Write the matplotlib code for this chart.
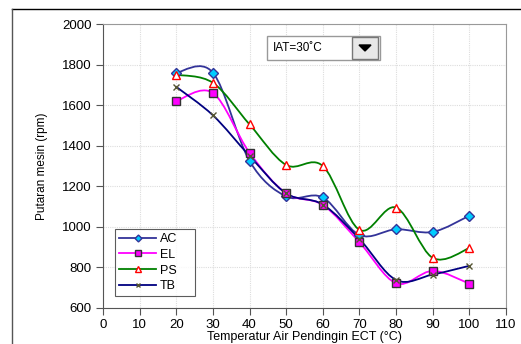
import numpy as np
import matplotlib.pyplot as plt
from matplotlib.path import Path
from matplotlib.patches import PathPatch, Rectangle, Polygon
from matplotlib.lines import Line2D

plt.rcParams['font.family'] = ['Liberation Sans', 'DejaVu Sans']

ect = [20, 30, 40, 50, 60, 70, 80, 90, 100]
ac = [1760, 1760, 1325, 1150, 1145, 960, 988, 975, 1055]
el = [1620, 1660, 1365, 1165, 1108, 924, 722, 783, 720]
ps = [1750, 1710, 1505, 1305, 1300, 985, 1095, 847, 895]
tb = [1690, 1550, 1350, 1165, 1110, 940, 738, 765, 808]
labels = ["AC", "EL", "PS", "TB"]


def smooth_path(x, y):
    # Excel style smoothed line as cubic bezier segments
    p = np.column_stack([x, y]).astype(float)
    verts = [p[0]]
    codes = [Path.MOVETO]
    n = len(p)
    for i in range(n - 1):
        p0 = p[i - 1] if i > 0 else p[i]
        p3 = p[i + 2] if i + 2 < n else p[i + 1]
        c1 = p[i] + (p[i + 1] - p0) / 6
        c2 = p[i + 1] - (p3 - p[i]) / 6
        verts += [c1, c2, p[i + 1]]
        codes += [Path.CURVE4] * 3
    return Path(verts, codes)


fig = plt.figure(figsize=(5.21, 3.44), dpi=100)
ax = fig.add_axes([103 / 521, 1 - 308 / 344, 403 / 521, 284 / 344])

styles = [
    dict(color="#333399", marker="D", mfc="#00ccff", mec="#333399", ms=5),
    dict(color="#ff00ff", marker="s", mfc="#ff00ff", mec="#333333", ms=5.5),
    dict(color="#008000", marker="^", mfc="white", mec="#ff0000", ms=6),
    dict(color="#000080", marker="x", mfc="none", mec="#555533", ms=5),
]

handles = []
for ys, st, lab in zip([ac, el, ps, tb], styles, labels):
    ax.add_patch(PathPatch(smooth_path(ect, ys), fill=False, edgecolor=st["color"],
                           lw=1.3, zorder=3))
    ax.plot(ect, ys, linestyle="none", marker=st["marker"], mfc=st["mfc"],
            mec=st["mec"], ms=st["ms"], mew=1.0, zorder=4)
    handles.append(Line2D([], [], color=st["color"], lw=1.3, marker=st["marker"],
                          mfc=st["mfc"], mec=st["mec"], ms=st["ms"] - 1.5, label=lab))

ax.set_xlim(0, 110)
ax.set_ylim(600, 2000)
ax.set_xticks(range(0, 111, 10))
ax.set_yticks(range(600, 2001, 200))
ax.grid(True, color="#dddddd", linestyle=(0, (1, 1)), lw=0.8)
ax.set_axisbelow(True)
for s in ax.spines.values():
    s.set_color("#999999")
ax.spines["left"].set_color("#555555")
ax.spines["bottom"].set_color("#555555")
ax.tick_params(labelsize=9.5, length=5, color="#555555", pad=3)
ax.set_xlabel("Temperatur Air Pendingin ECT (°C)", fontsize=9, labelpad=0)
ax.set_ylabel("Putaran mesin (rpm)", fontsize=8.5, labelpad=10)

leg = ax.legend(handles=handles, loc="lower left",
                bbox_to_anchor=(12 / 403, 12 / 284, 80 / 403, 64 / 284), mode="expand",
                fontsize=9, handlelength=3, frameon=True, fancybox=False,
                borderpad=0.3, labelspacing=0.3, handletextpad=0.3,
                borderaxespad=0)
leg.get_frame().set_edgecolor("#333333")
leg.get_frame().set_linewidth(0.8)

# dropdown box
fig.patches.append(Rectangle((267 / 521, 1 - 60 / 344), 113 / 521, 24 / 344,
                             transform=fig.transFigure, facecolor="white",
                             edgecolor="#999999", lw=1, zorder=5))
fig.patches.append(Rectangle((352 / 521, 1 - 59 / 344), 26 / 521, 22 / 344,
                             transform=fig.transFigure, facecolor="#e8e8e8",
                             edgecolor="#777777", lw=1, zorder=5))
fig.patches.append(Polygon([[359 / 521, 1 - 45 / 344], [371 / 521, 1 - 45 / 344],
                            [365 / 521, 1 - 51 / 344]], closed=True,
                           transform=fig.transFigure, color="black", zorder=6))
fig.text(273 / 521, 1 - 48 / 344, "IAT=30˚C", fontsize=8.5, va="center", zorder=6)

# outer border lines
fig.add_artist(Line2D([12 / 521, 1], [1 - 9 / 344, 1 - 9 / 344], color="black", lw=1))
fig.add_artist(Line2D([12 / 521, 12 / 521], [0, 1 - 9 / 344], color="#555555", lw=1))

fig.savefig("out.png", dpi=100)
